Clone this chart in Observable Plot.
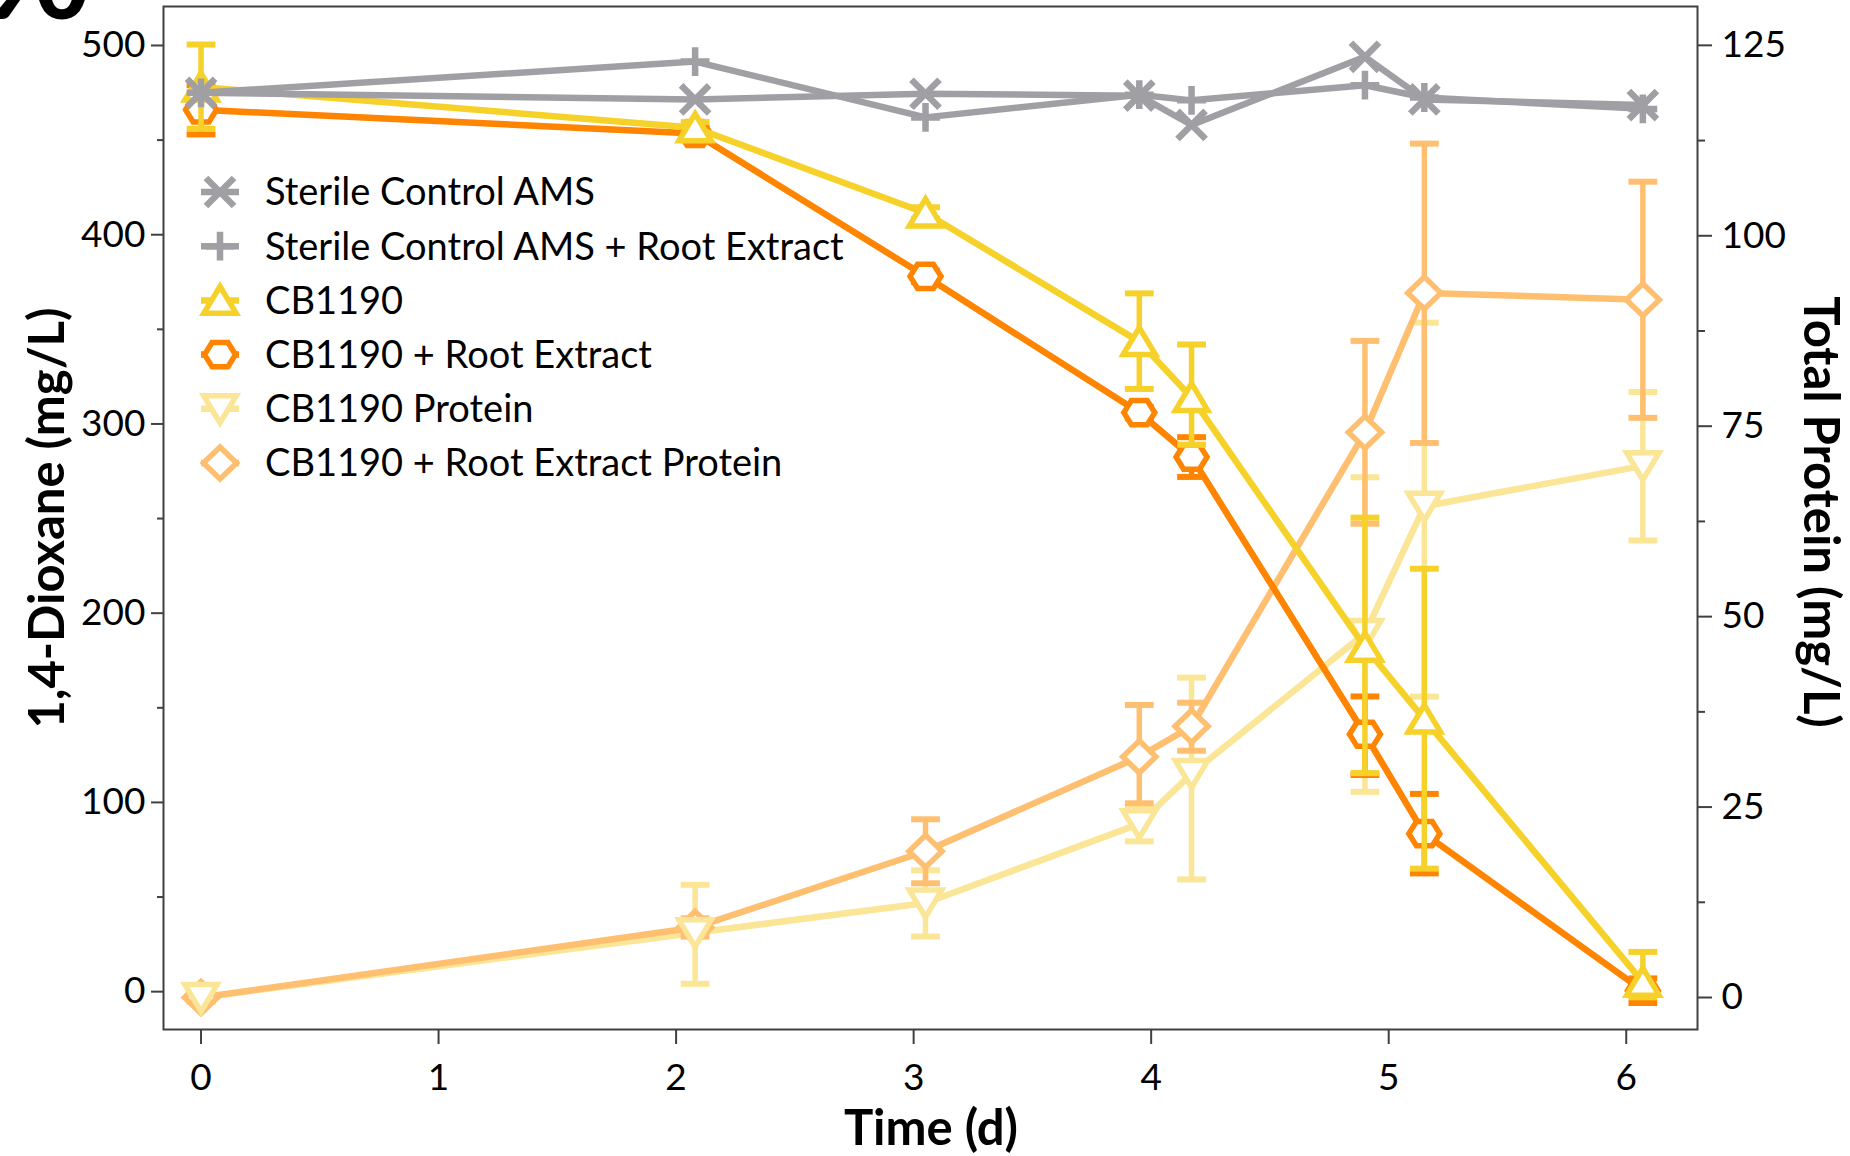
<!DOCTYPE html>
<html><head><meta charset="utf-8">
<script src="https://cdn.jsdelivr.net/npm/d3@7"></script>
<script src="https://cdn.jsdelivr.net/npm/@observablehq/plot@0.6"></script>
<style>
body{margin:0;background:#fff;}
#wrap{position:relative;width:1850px;height:1156px;overflow:hidden;font-family:Lato,sans-serif;background:#fff;}
.title{position:absolute;font-weight:bold;font-size:49px;white-space:nowrap;color:#000;line-height:1;}
#frag{position:absolute;left:-18px;top:-62px;font-weight:900;font-size:92px;line-height:1;color:#000;}
</style></head>
<body><div id="wrap"></div>
<script>
// ---------------- data ----------------
const time = [0, 2.08, 3.05, 3.95, 4.17, 4.9, 5.15, 6.07];
const sterileAMS = [475, 471.5, 474.5, 473.5, 458, 494, 471.5, 468.5];
const sterileAMSRoot = [475, 491.5, 462, 474, 471, 479, 472.5, 466.5];
const cb1190 = [478, 456.5, 411.5, 343.5, 314, 182, 144, 5];
const cb1190Low = [456, 453.5, 408.5, 318.5, 289, 115.5, 65, -3];
const cb1190High = [500.5, 459.5, 414.5, 369, 342, 250.5, 223.5, 21];
const cbRoot = [466, 453.5, 378, 306, 282.5, 136, 83.5, 0.5];
const cbRootLow = [453, 450.5, 375, 303, 272, 114.5, 62.5, -6];
const cbRootHigh = [479, 456.5, 381, 309, 293, 156, 104.5, 7];
const cbProtein = [0, 8.5, 12.4, 22.8, 29.4, 47.8, 64.5, 69.8];
const cbProteinLow = [-0.5, 1.8, 8, 20.5, 15.5, 27, 39.5, 60];
const cbProteinHigh = [0.5, 14.8, 16.7, 25, 42, 68.3, 88.6, 79.5];
const cbRootProtein = [0, 9.2, 19.2, 31.6, 35.6, 74.2, 92.5, 91.6];
const cbRootProteinLow = [-0.5, 8, 15, 25.5, 32.4, 62.2, 72.8, 76.1];
const cbRootProteinHigh = [0.5, 10.4, 23.4, 38.4, 38.7, 86.2, 112.1, 107.1];

const xTicks = [0, 1, 2, 3, 4, 5, 6];
const dioxTicks = [0, 100, 200, 300, 400, 500];
const dioxMinor = [50, 150, 250, 350, 450];
const protTicks = [0, 25, 50, 75, 100, 125];
const protMinor = [12.5, 37.5, 62.5, 87.5, 112.5];

const names = ["Sterile Control AMS", "Sterile Control AMS + Root Extract", "CB1190",
  "CB1190 + Root Extract", "CB1190 Protein", "CB1190 + Root Extract Protein"];
const colors = ["#A09FA4", "#A09FA4", "#F6D12A", "#FF8400", "#FAE696", "#FEC070"];

// ---------------- symbols ----------------
function sym(fn){ return {draw(c, size){ const r = Math.sqrt(size / Math.PI); fn(c, r); }}; }
const timesSym = sym((c,r)=>{const k=0.78*r; c.moveTo(-k,-k); c.lineTo(k,k); c.moveTo(-k,k); c.lineTo(k,-k);});
const plusSym = sym((c,r)=>{const k=0.8*r; c.moveTo(-k,0); c.lineTo(k,0); c.moveTo(0,-k); c.lineTo(0,k);});
const triUp = sym((c,r)=>{c.moveTo(0,-0.78*r); c.lineTo(0.9*r,0.72*r); c.lineTo(-0.9*r,0.72*r); c.closePath();});
const triDown = sym((c,r)=>{c.moveTo(0,0.78*r); c.lineTo(0.9*r,-0.72*r); c.lineTo(-0.9*r,-0.72*r); c.closePath();});
const hexSym = sym((c,r)=>{const a=0.86*r,b=0.44*r,h=0.67*r; c.moveTo(-a,0); c.lineTo(-b,-h); c.lineTo(b,-h); c.lineTo(a,0); c.lineTo(b,h); c.lineTo(-b,h); c.closePath();});
const diamondSym = sym((c,r)=>{c.moveTo(0,-0.89*r); c.lineTo(0.92*r,0); c.lineTo(0,0.89*r); c.lineTo(-0.92*r,0); c.closePath();});
const capSym = sym((c,r)=>{const k=0.8*r; c.moveTo(-k,0); c.lineTo(k,0);});
const symbols = [timesSym, plusSym, triUp, hexSym, triDown, diamondSym];
const filled = [false, false, true, true, true, true];

function rows(vals, lo, hi){ return time.map((t,i)=>({t, v: vals[i], lo: lo ? lo[i] : null, hi: hi ? hi[i] : null})); }

function lineMarks(idx, vals, lo, hi){
  const d = rows(vals, lo, hi);
  const col = colors[idx];
  const m = [Plot.line(d, {x:"t", y:"v", stroke: col, strokeWidth: 6.5})];
  if (lo) {
    m.push(Plot.ruleX(d, {x:"t", y1:"lo", y2:"hi", stroke: col, strokeWidth: 5.5}));
    m.push(Plot.dot(d, {x:"t", y:"lo", r:18, symbol: capSym, stroke: col, strokeWidth: 6, fill: "none"}));
    m.push(Plot.dot(d, {x:"t", y:"hi", r:18, symbol: capSym, stroke: col, strokeWidth: 6, fill: "none"}));
  }
  return m;
}
function markerMark(idx, vals){
  const d = rows(vals);
  return Plot.dot(d, {x:"t", y:"v", r:18, symbol: symbols[idx], stroke: colors[idx],
    strokeWidth: filled[idx] ? 5.5 : 6.5, fill: filled[idx] ? "white" : "none"});
}
function seriesMarks(idx, vals, lo, hi){ return [...lineMarks(idx, vals, lo, hi), markerMark(idx, vals)]; }

const W = 1850, H = 1156;
const common = {
  width: W, height: H, marginLeft: 163, marginRight: 153, marginTop: 6, marginBottom: 127,
};
const baseStyle = {position:"absolute", left:"0px", top:"0px", background:"transparent",
  fontFamily:"Lato, sans-serif", fontSize:"37px", color:"#000", overflow:"visible"};
const axisStroke = "#404040";
const intFmt = d => String(d);

// Protein plot (right axis) drawn underneath
const protPlot = Plot.plot({
  ...common,
  style: baseStyle,
  x: {domain: [-0.158, 6.3], label: null, axis: null},
  y: {domain: [-4.2, 130.1], label: null},
  marks: [
    Plot.axisY({anchor:"right", ticks: protTicks, tickFormat: intFmt, tickSize: 14, tickPadding: 10, stroke: axisStroke, strokeWidth: 2, label: null}),
    Plot.axisY({anchor:"right", ticks: protMinor, tickSize: 7, tickFormat: () => "", stroke: axisStroke, strokeWidth: 2, label: null}),
    ...lineMarks(4, cbProtein, cbProteinLow, cbProteinHigh),
    ...lineMarks(5, cbRootProtein, cbRootProteinLow, cbRootProteinHigh),
    markerMark(5, cbRootProtein),
    markerMark(4, cbProtein)
  ]
});

// Dioxane plot (left axis) on top
const dioxPlot = Plot.plot({
  ...common,
  style: baseStyle,
  x: {domain: [-0.158, 6.3], label: null},
  y: {domain: [-20, 520.6], label: null},
  marks: [
    Plot.frame({stroke: axisStroke, strokeWidth: 2}),
    Plot.axisX({ticks: xTicks, tickFormat: intFmt, tickSize: 15, tickPadding: 19, stroke: axisStroke, strokeWidth: 2, label: null}),
    Plot.axisY({ticks: dioxTicks, tickFormat: intFmt, tickSize: 12, tickPadding: 6, stroke: axisStroke, strokeWidth: 2, label: null}),
    Plot.axisY({ticks: dioxMinor, tickSize: 6, tickFormat: () => "", stroke: axisStroke, strokeWidth: 2, label: null}),
    ...seriesMarks(3, cbRoot, cbRootLow, cbRootHigh),
    ...seriesMarks(2, cb1190, cb1190Low, cb1190High),
    ...seriesMarks(1, sterileAMSRoot),
    ...seriesMarks(0, sterileAMS)
  ]
});

const wrap = document.getElementById("wrap");
wrap.appendChild(protPlot);
wrap.appendChild(dioxPlot);

// titles
function addTitle(text, cx, cy, rot){
  const el = document.createElement("div");
  el.className = "title";
  el.textContent = text;
  el.style.left = cx + "px"; el.style.top = cy + "px";
  el.style.transform = `translate(-50%,-50%) rotate(${rot}deg)`;
  wrap.appendChild(el);
}
addTitle("1,4-Dioxane (mg/L)", 45, 518, -90);
addTitle("Total Protein (mg/L)", 1822, 512, 90);
addTitle("Time (d)", 931, 1126, 0);

// fragment of a neighbouring panel label
const frag = document.createElement("div"); frag.id = "frag"; frag.textContent = "90"; wrap.appendChild(frag);

// legend
const leg = d3.select(wrap).append("svg")
  .attr("width", 760).attr("height", 340)
  .style("position","absolute").style("left","180px").style("top","160px");
names.forEach((n, i) => {
  const cy = 32 + i * 54.2;
  const g = leg.append("g").attr("transform", `translate(40,${cy})`);
  g.append("line").attr("x1",-19).attr("x2",19).attr("stroke",colors[i]).attr("stroke-width",6.5);
  g.append("path").attr("d", d3.symbol(symbols[i], 18*18*Math.PI)())
    .attr("stroke", colors[i]).attr("stroke-width", filled[i] ? 5.5 : 6.5)
    .attr("fill", filled[i] ? "white" : "none");
  leg.append("text").attr("x", 85).attr("y", cy).attr("dy","0.35em")
    .attr("font-family","Lato, sans-serif").attr("font-size", 38).attr("fill","#000").text(n);
});
</script></body></html>
